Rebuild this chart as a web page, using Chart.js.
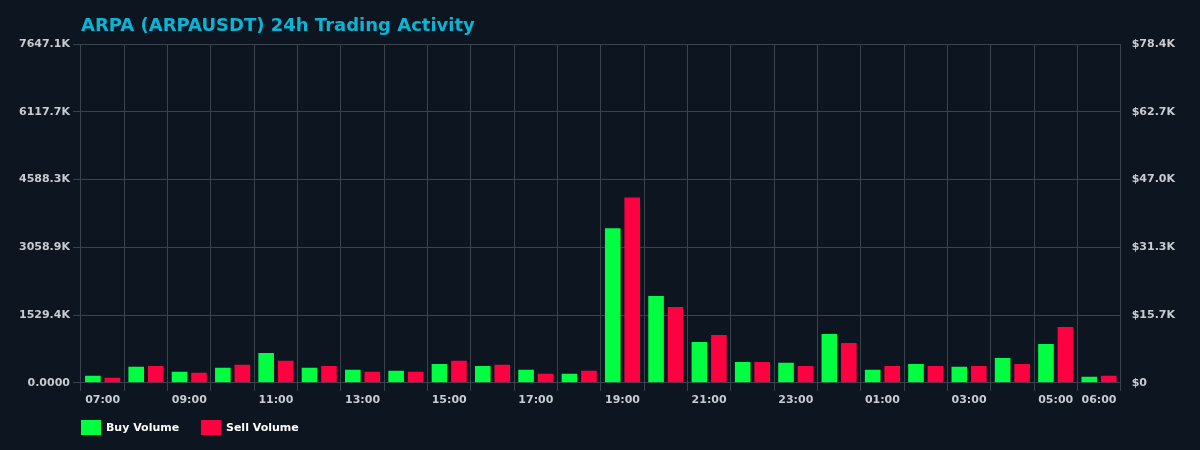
<!DOCTYPE html>
<html><head><meta charset="utf-8">
<script src="https://cdn.jsdelivr.net/npm/chart.js@4/dist/chart.umd.min.js"></script>
<style>html,body{margin:0;background:#0d1620;}#w{width:1200px;height:450px;}</style>
</head><body><div id="w"><canvas id="c"></canvas></div>
<script>
const hours=["07:00","08:00","09:00","10:00","11:00","12:00","13:00","14:00","15:00","16:00","17:00","18:00","19:00","20:00","21:00","22:00","23:00","00:00","01:00","02:00","03:00","04:00","05:00","06:00"];
const buyVolume=[157,360,247,337,675,337,292,270,427,382,292,202,3486,1957,922,472,450,1102,292,427,360,562,877,135];
const sellVolume=[112,382,225,405,495,382,247,247,495,405,202,270,4183,1709,1080,472,382,900,382,382,382,427,1260,157];
const leftStep=1529.426, rightStep=15.672;
const tc='#c8ccd2', gc='#39424d', font={family:'DejaVu Sans',size:11,weight:'bold'};
const deco={id:'deco',afterDraw(ch){const c=ch.ctx,a=ch.chartArea;c.save();
c.fillStyle='#0ab4d4';c.font='bold 18px "DejaVu Sans"';c.textBaseline='middle';c.fillText('ARPA (ARPAUSDT) 24h Trading Activity',a.left,26);
c.font='bold 11px "DejaVu Sans"';
ch.data.datasets.forEach((d,i)=>{const x=a.left+i*120;c.fillStyle=d.backgroundColor;c.fillRect(x,420,20,15);c.fillStyle='#ffffff';c.fillText(d.label,x+25,428);});
c.restore();}};
new Chart(document.getElementById('c'),{type:'bar',
data:{labels:hours,datasets:[
{label:'Buy Volume',data:buyVolume,backgroundColor:'#00ff41',barPercentage:0.8,categoryPercentage:0.9},
{label:'Sell Volume',data:sellVolume,backgroundColor:'#ff0040',barPercentage:0.8,categoryPercentage:0.9}]},
options:{responsive:true,maintainAspectRatio:false,animation:false,
layout:{padding:{left:16,right:22,top:44,bottom:40}},
plugins:{title:{display:false},legend:{display:false},tooltip:{enabled:false}},
scales:{
x:{grid:{color:gc},border:{color:gc},ticks:{color:tc,font:font,maxRotation:0,autoSkip:false,callback:(v,i)=>(i%2===0||i===hours.length-1)?hours[i]:''}},
y:{position:'left',min:0,max:leftStep*5,grid:{color:gc},border:{color:gc},ticks:{color:tc,font:font,stepSize:leftStep,callback:v=>v===0?'0.0000':v.toFixed(1)+'K'}},
y1:{position:'right',min:0,max:rightStep*5,grid:{display:false},border:{color:gc},ticks:{color:tc,font:font,stepSize:rightStep,callback:v=>v===0?'$0':'$'+v.toFixed(1)+'K'}}
}},plugins:[deco]});
</script></body></html>
